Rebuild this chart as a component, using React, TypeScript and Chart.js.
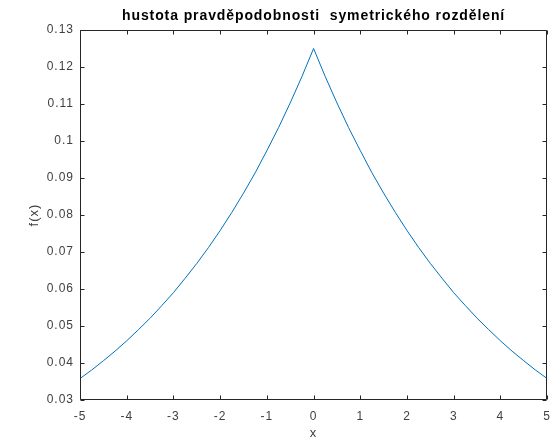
import React, { useEffect, useRef } from "react";
import { Chart, registerables } from "chart.js";

Chart.register(...registerables);

const TITLE = "hustota pravděpodobnosti  symetrického rozdělení";
const X_LABEL = "x";
const Y_LABEL = "f(x)";

const X_VALUES = [
  -5, -4.75, -4.5, -4.25, -4, -3.75, -3.5, -3.25, -3, -2.75, -2.5, -2.25, -2, -1.75, -1.5, -1.25, -1, -0.75, -0.5, -0.25,
  0,
  0.25, 0.5, 0.75, 1, 1.25, 1.5, 1.75, 2, 2.25, 2.5, 2.75, 3, 3.25, 3.5, 3.75, 4, 4.25, 4.5, 4.75, 5,
];
const F_VALUES = [
  0.0358, 0.0381, 0.0406, 0.0432, 0.046, 0.049, 0.0521, 0.0555, 0.059, 0.0629, 0.0669, 0.0712, 0.0758, 0.0807, 0.0859, 0.0914, 0.0974, 0.1036, 0.1103, 0.1174,
  0.125,
  0.1174, 0.1103, 0.1036, 0.0974, 0.0914, 0.0859, 0.0807, 0.0758, 0.0712, 0.0669, 0.0629, 0.059, 0.0555, 0.0521, 0.049, 0.046, 0.0432, 0.0406, 0.0381, 0.0358,
];

const X_TICKS = [-5, -4, -3, -2, -1, 0, 1, 2, 3, 4, 5];
const Y_TICKS = [0.03, 0.04, 0.05, 0.06, 0.07, 0.08, 0.09, 0.1, 0.11, 0.12, 0.13];

const FONT = '"Liberation Sans", Arial, sans-serif';
const AXIS_COLOR = "#262626";
const LABEL_COLOR = "#404040";

const spacingPlugin = {
  id: "spacing",
  beforeUpdate(chart: any) {
    chart.ctx.letterSpacing = "1px";
  },
  beforeDraw(chart: any) {
    chart.ctx.letterSpacing = "1px";
  },
};

const boxPlugin = {
  id: "matlabBox",
  afterDraw(chart: any) {
    const { ctx, chartArea } = chart;
    const { left, right, top, bottom } = chartArea;
    const xs = chart.scales.x;
    const ys = chart.scales.y;
    const TL = 4;
    ctx.save();
    ctx.strokeStyle = AXIS_COLOR;
    ctx.lineWidth = 1;
    ctx.beginPath();
    const L = Math.round(left) + 0.5;
    const R = Math.round(right) - 0.5;
    const T = Math.round(top) + 0.5;
    const B = Math.round(bottom) - 0.5;
    ctx.rect(L, T, R - L, B - T);
    xs.ticks.forEach((t: any) => {
      const px = Math.round(xs.getPixelForValue(t.value)) + 0.5;
      ctx.moveTo(px, B);
      ctx.lineTo(px, B - TL);
      ctx.moveTo(px, T);
      ctx.lineTo(px, T + TL);
    });
    ys.ticks.forEach((t: any) => {
      const py = Math.round(ys.getPixelForValue(t.value)) + 0.5;
      ctx.moveTo(L, py);
      ctx.lineTo(L + TL, py);
      ctx.moveTo(R, py);
      ctx.lineTo(R - TL, py);
    });
    ctx.stroke();
    ctx.fillStyle = "#000";
    ctx.font = `bold 14px ${FONT}`;
    ctx.letterSpacing = "0.9px";
    ctx.textAlign = "center";
    ctx.textBaseline = "middle";
    ctx.fillText(TITLE, (left + right) / 2, 16);
    ctx.restore();
  },
};

export default function App() {
  const ref = useRef<HTMLCanvasElement | null>(null);
  useEffect(() => {
    if (!ref.current) return;
    const chart = new Chart(ref.current, {
      type: "line",
      data: {
        datasets: [
          {
            data: X_VALUES.map((x, i) => ({ x, y: F_VALUES[i] })),
            borderColor: "#0072BD",
            borderWidth: 1,
            pointRadius: 0,
            tension: 0,
            fill: false,
          },
        ],
      },
      options: {
        animation: false,
        responsive: false,
        layout: { padding: { top: 30, right: 11, bottom: 0, left: 0 } },
        plugins: {
          legend: { display: false },
          tooltip: { enabled: false },
          title: { display: false },
        },
        scales: {
          x: {
            type: "linear",
            min: -5,
            max: 5,
            afterBuildTicks: (s: any) => {
              s.ticks = X_TICKS.map((v) => ({ value: v }));
            },
            afterFit: (s: any) => {
              s.height = 41;
            },
            grid: { display: false, drawTicks: false },
            border: { display: false },
            ticks: {
              padding: 9,
              color: LABEL_COLOR,
              font: { family: FONT, size: 12 },
              maxRotation: 0,
              callback: (v: any) => String(v),
            },
            title: {
              display: true,
              text: X_LABEL,
              color: LABEL_COLOR,
              font: { family: FONT, size: 13 },
              padding: { top: 0, bottom: 0 },
            },
          },
          y: {
            type: "linear",
            min: 0.03,
            max: 0.13,
            afterBuildTicks: (s: any) => {
              s.ticks = Y_TICKS.map((v) => ({ value: v }));
            },
            afterFit: (s: any) => {
              s.width = 80;
            },
            grid: { display: false, drawTicks: false },
            border: { display: false },
            ticks: {
              padding: 6,
              color: LABEL_COLOR,
              font: { family: FONT, size: 12 },
              callback: (v: any) => String(Number(v.toFixed(2))),
            },
            title: {
              display: true,
              text: Y_LABEL,
              color: LABEL_COLOR,
              font: { family: FONT, size: 13 },
              padding: { top: 27, bottom: 0 },
            },
          },
        },
      },
      plugins: [spacingPlugin, boxPlugin],
    });
    return () => chart.destroy();
  }, []);
  return (
    <div style={{ position: "fixed", left: 0, top: 0, width: 560, height: 441, background: "#fff" }}>
      <canvas ref={ref} width={560} height={441} style={{ display: "block" }} />
    </div>
  );
}
